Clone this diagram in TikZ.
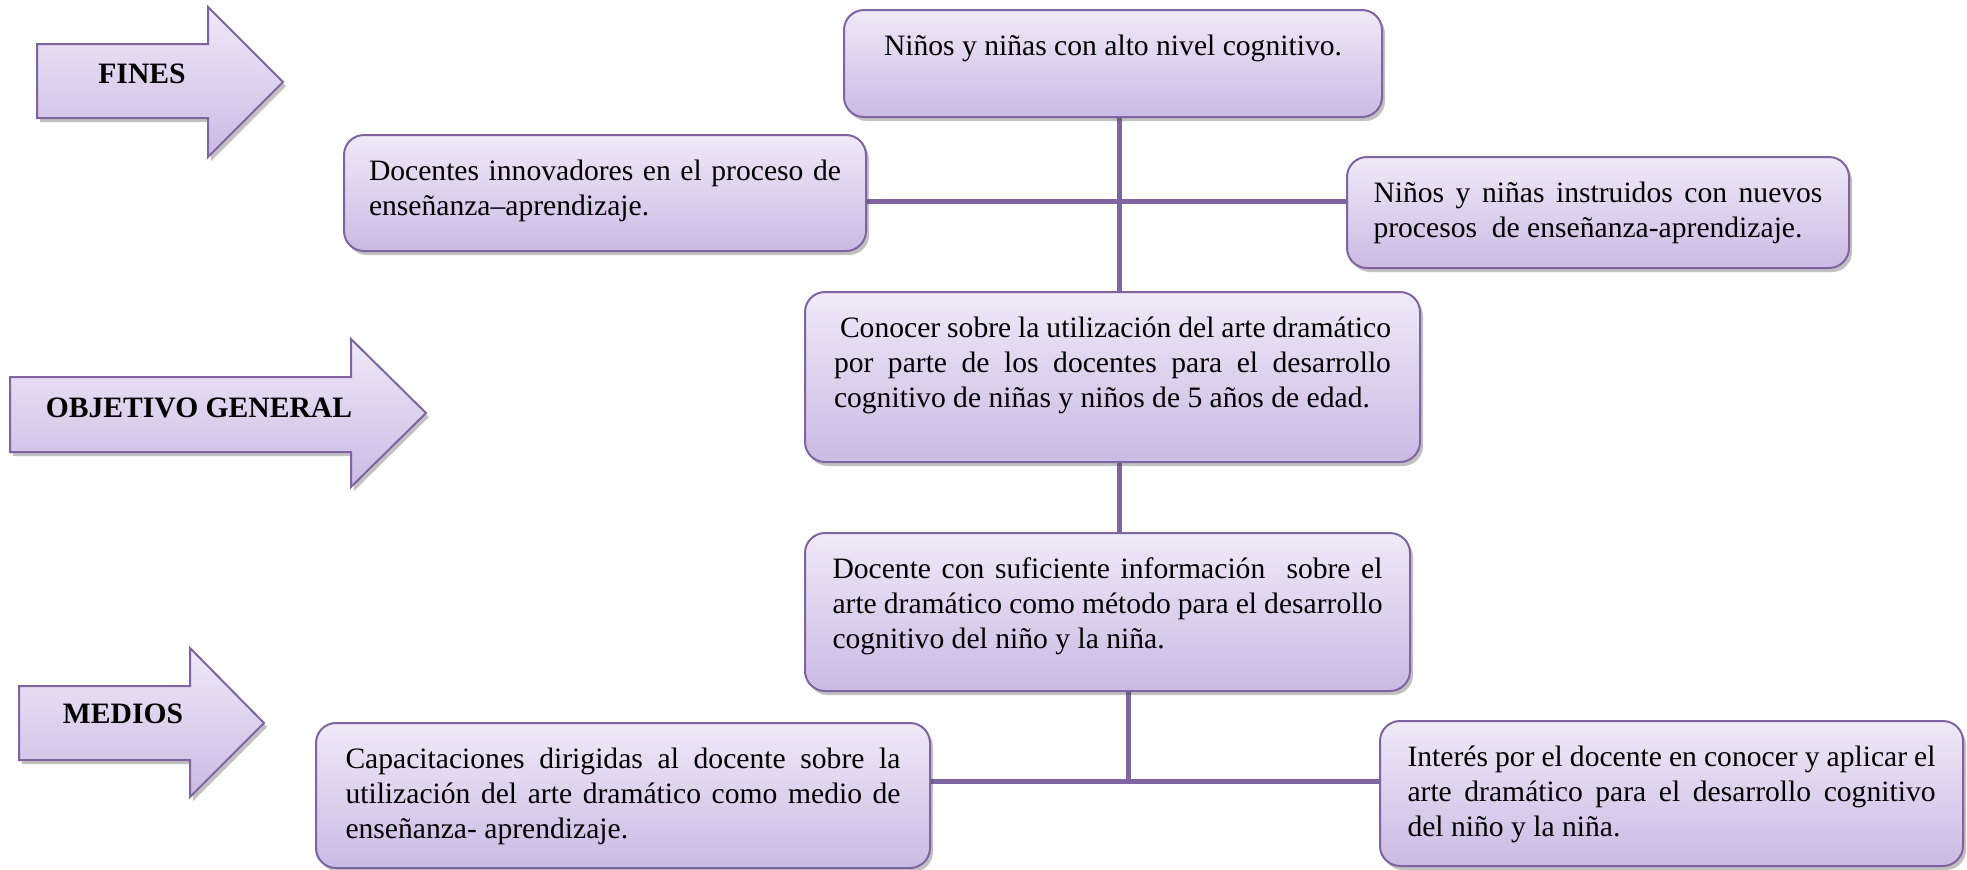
\documentclass[tikz,border=0pt]{standalone}
\usepackage{fontspec}
\setmainfont{Liberation Serif}
\usetikzlibrary{shadows,backgrounds}
\definecolor{ptop}{RGB}{239,233,247}
\definecolor{pbot}{RGB}{203,186,228}
\definecolor{pborder}{RGB}{128,100,162}
\newcommand{\mkbox}[3]{\parbox[c][\dimexpr#2pt-20.5pt\relax][t]{#1pt}{\strut#3}}
\newcommand{\jline}[1]{\makebox[\linewidth][s]{#1}}
\tikzset{
  boxnode/.style={rectangle, rounded corners=10pt, draw=pborder, line width=1pt,
    top color=ptop, bottom color=pbot, inner sep=0pt,
    drop shadow={shadow xshift=1.5pt, shadow yshift=-2pt, opacity=0.35, fill=black!70},
    font=\fontsize{14.8}{17.5}\selectfont},
  arrowshape/.style={draw=pborder, line width=1pt, top color=ptop, bottom color=pbot,
    drop shadow={shadow xshift=1.5pt, shadow yshift=-2pt, opacity=0.35, fill=black!70}},
  arrowlabel/.style={font=\fontsize{14.8}{17.5}\selectfont\bfseries, inner sep=0pt},
  conn/.style={draw=pborder, line width=2.5pt}
}
\begin{document}
\begin{tikzpicture}[x=0.5pt,y=-0.5pt]
\useasboundingbox (0,0) rectangle (1967,869);
\hyphenpenalty=10000 \exhyphenpenalty=10000

% arrows
\path[arrowshape] (37,44) -- (208,44) -- (208,7) -- (283,82) -- (208,157) -- (208,118) -- (37,118) -- cycle;
\node[arrowlabel] (fines) at (142,74) {FINES};
\path[arrowshape] (10,377) -- (351,377) -- (351,339) -- (426,413) -- (351,487) -- (351,452) -- (10,452) -- cycle;
\node[arrowlabel] (obj) at (199,408) {OBJETIVO GENERAL};
\path[arrowshape] (19,686) -- (190,686) -- (190,648) -- (264,723) -- (190,797) -- (190,760) -- (19,760) -- cycle;
\node[arrowlabel] (medios) at (123,714) {MEDIOS};

% boxes
\node[boxnode, minimum width=269pt, minimum height=53.5pt] (t) at (1113,63.5)
  {\mkbox{245}{53.5}{\centering Niños y niñas con alto nivel cognitivo.}};
\node[boxnode, minimum width=261pt, minimum height=58pt] (l) at (605,193)
  {\mkbox{236}{58}{\jline{Docentes innovadores en el proceso de}\\enseñanza–aprendizaje.}};
\node[boxnode, minimum width=251pt, minimum height=55.5pt] (r) at (1598,212.5)
  {\mkbox{224.5}{55.5}{\jline{Niños y niñas instruidos con nuevos}\\procesos\ \ de enseñanza-aprendizaje.}};
\node[boxnode, minimum width=307.5pt, minimum height=85pt] (c) at (1112.5,377)
  {\mkbox{278.5}{85}{\jline{\hspace*{3pt}Conocer sobre la utilización del arte dramático}\\\jline{por parte de los docentes para el desarrollo}\\cognitivo de niñas y niños de 5 años de edad.}};
\node[boxnode, minimum width=302.5pt, minimum height=79pt] (d) at (1107.5,612)
  {\mkbox{275}{79}{\jline{Docente con suficiente información\ \ sobre el}\\\jline{arte dramático como método para el desarrollo}\\cognitivo del niño y la niña.}};
\node[boxnode, minimum width=307pt, minimum height=72.5pt] (cap) at (623,795.5)
  {\mkbox{277.5}{72.5}{\jline{Capacitaciones dirigidas al docente sobre la}\\\jline{utilización del arte dramático como medio de}\\enseñanza- aprendizaje.}};
\node[boxnode, minimum width=291.5pt, minimum height=72.5pt] (i) at (1671.5,793.5)
  {\mkbox{264}{72.5}{\jline{Interés por el docente en conocer y aplicar el}\\\jline{arte dramático para el desarrollo cognitivo}\\del niño y la niña.}};

% connectors
\coordinate (jf) at (1119,201);
\coordinate (jm) at (1128,781);
\begin{scope}[on background layer]
\draw[conn] (t.south -| jf) -- (c.north -| jf);
\draw[conn] (l.east |- jf) -- (r.west |- jf);
\draw[conn] (c.south -| jf) -- (d.north -| jf);
\draw[conn] (d.south -| jm) -- (jm);
\draw[conn] (cap.east |- jm) -- (i.west |- jm);
\end{scope}
\end{tikzpicture}
\end{document}
